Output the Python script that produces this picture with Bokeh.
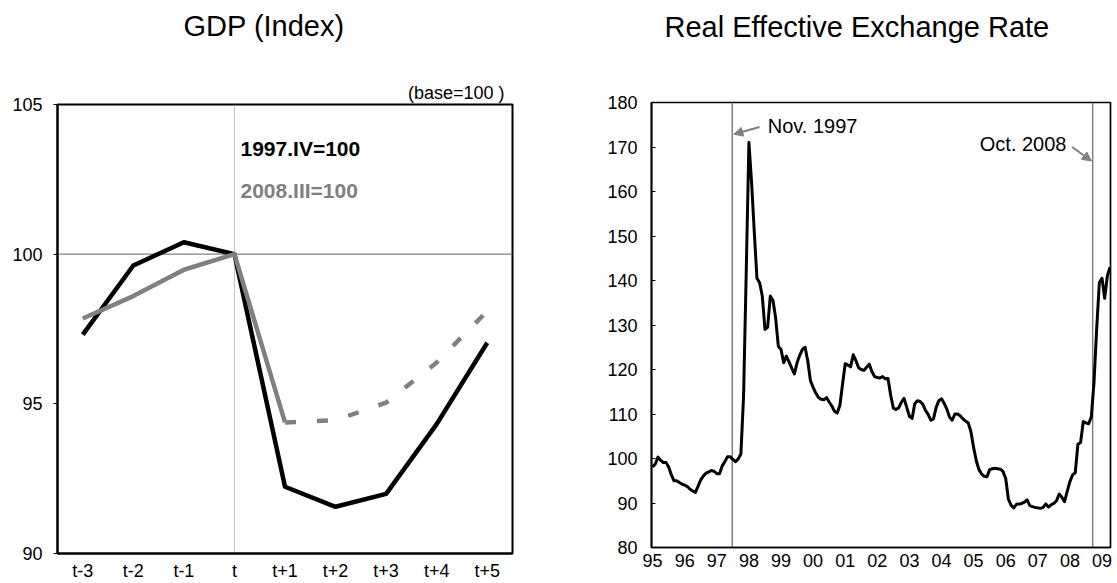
from bokeh.plotting import figure
from bokeh.layouts import row
from bokeh.models import Range1d, FixedTicker, Span, Label, Arrow, NormalHead, Title
from bokeh.embed import file_html
from bokeh.resources import INLINE

FONT = "Liberation Sans"
GRAY = "#808080"

# ---------------- data: GDP (Index) ----------------
categories = ["t-3", "t-2", "t-1", "t", "t+1", "t+2", "t+3", "t+4", "t+5"]
gdp_1997 = [97.31, 99.62, 100.40, 100.0, 92.23, 91.56, 91.99, 94.32, 97.04]
gdp_2008_actual = [97.85, 98.60, 99.48, 100.0, 94.38]          # t-3 .. t+1
gdp_2008_projection = [94.38, 94.45, 95.04, 96.38, 98.10]      # t+1 .. t+5
gdp_y_ticks = [90, 95, 100, 105]
gdp_base = 100
gdp_crisis_period = 3   # index of "t"

# ---------------- data: Real Effective Exchange Rate (monthly, from Jan 1995) ----------------
reer_start_year = 1995
reer = [
    98.1, 98.75, 100.3, 99.6, 99.1, 99.1, 98.1, 96.3, 95.0, 95.0, 94.6, 94.25,      # 1995
    94.0, 93.7, 93.1, 92.7, 92.4, 93.8, 95.2, 96.1, 96.7, 97.0, 97.3, 97.1,         # 1996
    96.6, 96.6, 98.3, 99.3, 100.4, 100.4, 99.8, 99.3, 99.9, 101.0, 114.0, 142.0,    # 1997
    171.0, 162.0, 151.0, 140.5, 139.5, 136.5, 129.0, 129.5, 136.5, 135.5, 131.5, 125.2,  # 1998
    124.5, 121.5, 123.0, 121.7, 120.3, 119.0, 121.5, 123.2, 124.5, 125.0, 121.9, 117.5,  # 1999
    116.0, 114.7, 113.7, 113.3, 113.2, 113.7, 112.7, 111.8, 110.6, 110.2, 111.9, 116.7,  # 2000
    121.3, 121.0, 120.6, 123.3, 122.0, 120.4, 120.0, 119.8, 120.5, 121.2, 119.5, 118.4,  # 2001
    118.2, 118.1, 118.4, 117.9, 118.0, 114.2, 111.3, 111.0, 111.4, 112.6, 113.5, 111.5,  # 2002
    109.5, 109.0, 112.3, 113.0, 112.8, 112.2, 110.8, 109.9, 108.6, 108.9, 111.5, 113.0,  # 2003
    113.4, 112.4, 111.1, 109.3, 108.6, 110.0, 110.0, 109.6, 108.9, 108.4, 108.0, 106.0,  # 2004
    102.5, 99.5, 97.5, 96.5, 96.0, 95.9, 97.5, 97.7, 97.8, 97.7, 97.6, 97.1,        # 2005
    95.5, 90.9, 89.5, 88.9, 89.7, 89.75, 89.9, 90.2, 90.7, 89.4, 89.2, 89.0,        # 2006
    88.9, 88.8, 89.0, 89.8, 89.1, 89.6, 89.9, 90.5, 92.0, 91.3, 90.3, 92.6,         # 2007
    94.8, 96.3, 96.8, 103.2, 103.6, 108.3, 108.0, 107.8, 109.3, 117.0, 129.0, 139.5,  # 2008
    140.5, 136.0, 141.0, 143.0,                                                     # 2009
]
year_ticks = list(range(1995, 2010))
year_labels = ["95", "96", "97", "98", "99", "00", "01", "02", "03", "04", "05", "06", "07", "08", "09"]
reer_y_ticks = list(range(80, 181, 10))
event_lines = [1997.48, 2008.71]
event_labels = ["Nov. 1997", "Oct. 2008"]


def spacer(standoff):
    return Title(text=" ", text_font=FONT, text_font_size="10px", standoff=standoff)


def style_axes(p, width):
    for ax in (p.xaxis[0], p.yaxis[0]):
        ax.axis_label = None
        ax.axis_line_color = "black"
        ax.axis_line_width = width
        ax.minor_tick_line_color = None
        ax.major_label_text_font = FONT
        ax.major_label_text_font_size = "18px"
        ax.major_label_text_color = "black"
        ax.major_tick_line_color = "black"


# ---------------- left chart ----------------
idx = list(range(len(categories)))
p1 = figure(width=580, height=583, x_range=Range1d(-0.5, 8.5), y_range=Range1d(90, 105),
            output_backend="svg", toolbar_location=None, frame_align=False,
            min_border_left=57, min_border_right=68, min_border_top=104, min_border_bottom=30)
p1.xgrid.visible = False
p1.ygrid.visible = False
p1.outline_line_color = "black"
p1.outline_line_width = 2
p1.outline_line_alpha = 1

p1.add_layout(Title(text="(base=100 )", align="right", offset=8, standoff=4, text_font=FONT,
                    text_font_size="18px", text_font_style="normal", text_color="black"), "above")
p1.add_layout(spacer(21), "above")
p1.add_layout(Title(text="GDP (Index)", align="left", offset=126, standoff=6, text_font=FONT,
                    text_font_size="29px", text_font_style="normal", text_color="black"), "above")

p1.xaxis.ticker = FixedTicker(ticks=idx)
p1.xaxis.major_label_overrides = {i: c for i, c in zip(idx, categories)}
p1.yaxis.ticker = FixedTicker(ticks=gdp_y_ticks)
style_axes(p1, 2)
p1.xaxis.major_tick_in = 0
p1.xaxis.major_tick_out = 0
p1.xaxis.major_label_standoff = 7
p1.yaxis.major_tick_in = 0
p1.yaxis.major_tick_out = 4
p1.yaxis.major_label_standoff = 11

p1.add_layout(Span(location=gdp_base, dimension="width", line_color=GRAY, line_width=1.3, level="underlay"))
p1.add_layout(Span(location=gdp_crisis_period, dimension="height", line_color=GRAY, line_width=1,
                   line_dash="1 1", level="underlay"))

p1.line(idx, gdp_1997, line_color="black", line_width=4.5, line_join="round")
p1.line(idx[:len(gdp_2008_actual)], gdp_2008_actual, line_color=GRAY, line_width=4.5, line_join="round")
p1.line(idx[len(gdp_2008_actual) - 1:], gdp_2008_projection, line_color=GRAY, line_width=4.5,
        line_dash="11 21")

p1.add_layout(Label(x=3.12, y=103.53, text="1997.IV=100", text_font=FONT, text_font_size="21px",
                    text_font_style="bold", text_color="black", text_baseline="middle", text_align="left"))
p1.add_layout(Label(x=3.12, y=102.12, text="2008.III=100", text_font=FONT, text_font_size="21px",
                    text_font_style="bold", text_color=GRAY, text_baseline="middle", text_align="left"))

# ---------------- right chart ----------------
months_x = [reer_start_year + i / 12 for i in range(len(reer))]
p2 = figure(width=537, height=583, x_range=Range1d(1994.965, 2009.265), y_range=Range1d(80, 180),
            output_backend="svg", toolbar_location=None, frame_align=False,
            min_border_left=71, min_border_right=7, min_border_top=102, min_border_bottom=36)
p2.xgrid.visible = False
p2.ygrid.visible = False
p2.outline_line_color = "black"
p2.outline_line_width = 1.7
p2.outline_line_alpha = 1

p2.add_layout(spacer(44), "above")
p2.add_layout(Title(text="Real Effective Exchange Rate", align="left", offset=13, standoff=6,
                    text_font=FONT, text_font_size="29px", text_font_style="normal",
                    text_color="black"), "above")

p2.xaxis.ticker = FixedTicker(ticks=year_ticks)
p2.xaxis.major_label_overrides = {y: l for y, l in zip(year_ticks, year_labels)}
p2.yaxis.ticker = FixedTicker(ticks=reer_y_ticks)
style_axes(p2, 1.7)
p2.xaxis.major_tick_in = 0
p2.xaxis.major_tick_out = 0
p2.xaxis.major_label_standoff = 6
p2.yaxis.major_tick_in = 4
p2.yaxis.major_tick_out = 0
p2.yaxis.major_label_standoff = 14

for e in event_lines:
    p2.add_layout(Span(location=e, dimension="height", line_color=GRAY, line_width=1.5, level="underlay"))

p2.line(months_x, reer, line_color="black", line_width=3, line_join="round")

p2.add_layout(Arrow(end=NormalHead(size=9, fill_color=GRAY, line_color=GRAY),
                    x_start=1998.33, y_start=174.5, x_end=1997.53, y_end=172.87,
                    line_color=GRAY, line_width=2))
p2.add_layout(Arrow(end=NormalHead(size=9, fill_color=GRAY, line_color=GRAY),
                    x_start=2008.07, y_start=170.0, x_end=2008.67, y_end=166.86,
                    line_color=GRAY, line_width=2))
p2.add_layout(Label(x=1998.585, y=174.67, text=event_labels[0], text_font=FONT, text_font_size="20px",
                    text_color="black", text_baseline="middle", text_align="left"))
p2.add_layout(Label(x=2007.894, y=170.77, text=event_labels[1], text_font=FONT, text_font_size="20px",
                    text_color="black", text_baseline="middle", text_align="right"))

layout = row(p1, p2)
open("out.html", "w").write(file_html(layout, INLINE))
